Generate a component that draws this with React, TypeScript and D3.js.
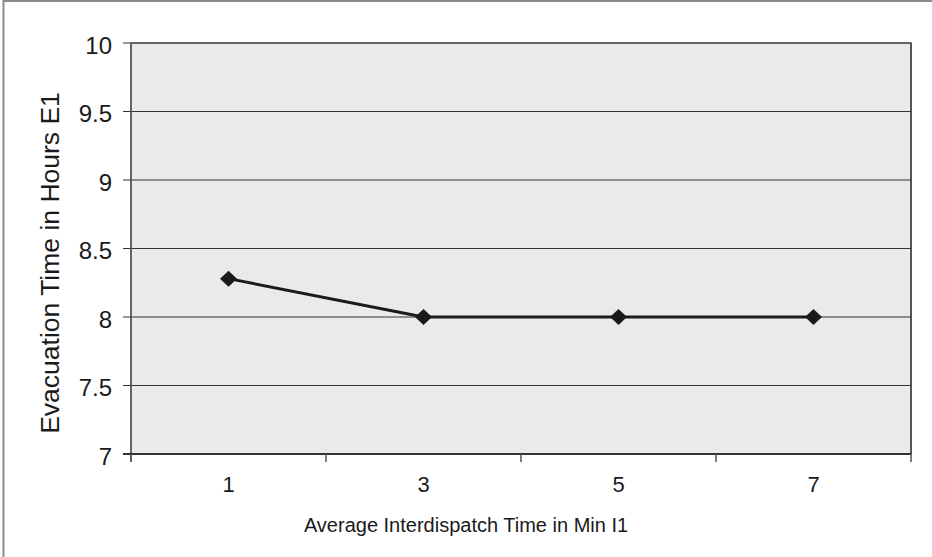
import React from "react";
import * as d3 from "d3";

const categories = ["1", "3", "5", "7"];
const evacuationHours = [8.28, 8, 8, 8];
const yTicks = [7, 7.5, 8, 8.5, 9, 9.5, 10];
const xTitle = "Average Interdispatch Time in Min I1";
const yTitle = "Evacuation Time in Hours E1";

const W = 932;
const H = 557;
const plot = { left: 131, right: 911, top: 43, bottom: 454 };

export default function App() {
  const x = d3.scaleBand<string>().domain(categories).range([plot.left, plot.right]);
  const y = d3.scaleLinear().domain([7, 10]).range([plot.bottom, plot.top]);
  const pts = categories.map((c, i) => [x(c)! + x.bandwidth() / 2, y(evacuationHours[i])] as [number, number]);
  const line = d3.line()(pts) || "";
  const boundaries = [...categories.map((c) => x(c)!), plot.right];
  const font = "Arial, 'Liberation Sans', Helvetica, sans-serif";
  const diamond = "M0,-8 L8.5,0 L0,8 L-8.5,0 Z";

  return (
    <svg
      width={W}
      height={H}
      style={{ position: "absolute", left: 0, top: 0, background: "#fff" }}
      fontFamily={font}
    >
      <rect x={3.5} y={1} width={W + 20} height={H + 20} fill="#fff" stroke="#8c8c8c" strokeWidth={2} />
      <rect
        x={plot.left}
        y={plot.top}
        width={plot.right - plot.left}
        height={plot.bottom - plot.top}
        fill="#eaeaeb"
        stroke="#808080"
        strokeWidth={1.5}
      />
      <line x1={plot.right} x2={plot.right} y1={plot.top} y2={plot.bottom} stroke="#555" strokeWidth={2} />
      {yTicks.map((t) => (
        <g key={t}>
          <line x1={plot.left - 8} x2={plot.right} y1={y(t)} y2={y(t)} stroke="#333" strokeWidth={1.2} />
          <text x={112} y={y(t) + 2} textAnchor="end" dominantBaseline="central" fontSize={24} fill="#1a1a1a">
            {String(t)}
          </text>
        </g>
      ))}
      <line x1={plot.left} x2={plot.left} y1={plot.top} y2={plot.bottom + 8} stroke="#555" strokeWidth={1.5} />
      <line x1={plot.left - 8} x2={plot.right} y1={plot.bottom} y2={plot.bottom} stroke="#333" strokeWidth={1.8} />
      {boundaries.map((b, i) => (
        <line key={i} x1={b} x2={b} y1={plot.bottom} y2={plot.bottom + 8} stroke="#555" strokeWidth={1.5} />
      ))}
      {categories.map((c) => (
        <text key={c} x={x(c)! + x.bandwidth() / 2} y={492} textAnchor="middle" fontSize={22} fill="#1a1a1a">
          {c}
        </text>
      ))}
      <path d={line} fill="none" stroke="#1a1a1a" strokeWidth={3} />
      {pts.map((p, i) => (
        <path key={i} d={diamond} transform={`translate(${p[0]},${p[1]})`} fill="#1a1a1a" />
      ))}
      <text x={466} y={532} textAnchor="middle" fontSize={20} fill="#1a1a1a">
        {xTitle}
      </text>
      <text
        transform={`translate(${59},${263}) rotate(-90)`}
        textAnchor="middle"
        fontSize={26.5}
        fill="#1a1a1a"
      >
        {yTitle}
      </text>
    </svg>
  );
}
